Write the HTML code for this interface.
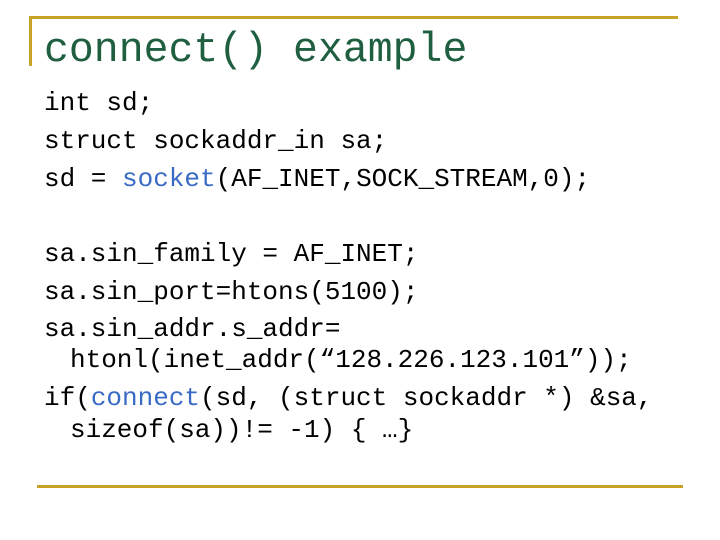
<!DOCTYPE html>
<html><head><meta charset="utf-8"><style>
body{margin:0;width:720px;height:540px;background:#fff;position:relative;overflow:hidden;font-family:"Liberation Mono",monospace;}
.l{position:absolute;left:44px;font-size:26px;line-height:30px;color:#000;white-space:pre;}
.b{color:#3a6bc4}
.g{position:absolute;background:#c9a227}
</style></head><body>
<div class="g" style="left:30px;top:16px;width:648px;height:3px"></div>
<div class="g" style="left:29px;top:16px;width:3px;height:50px"></div>
<div class="g" style="left:37px;top:485px;width:646px;height:3px"></div>
<div style="position:absolute;left:44px;top:26px;font-size:41.5px;line-height:50px;color:#1f5f40;white-space:pre">connect() example</div>
<div class="l" style="top:88px">int sd;</div>
<div class="l" style="top:126px">struct sockaddr_in sa;</div>
<div class="l" style="top:164px">sd = <span class="b">socket</span>(AF_INET,SOCK_STREAM,0);</div>
<div class="l" style="top:239px">sa.sin_family = AF_INET;</div>
<div class="l" style="top:277px">sa.sin_port=htons(5100);</div>
<div class="l" style="top:314px">sa.sin_addr.s_addr=</div>
<div class="l" style="top:345px;left:70px">htonl(inet_addr(“128.226.123.101”));</div>
<div class="l" style="top:383px">if(<span class="b">connect</span>(sd, (struct sockaddr *) &amp;sa,</div>
<div class="l" style="top:415px;left:70px">sizeof(sa))!= -1) { …}</div>
</body></html>
